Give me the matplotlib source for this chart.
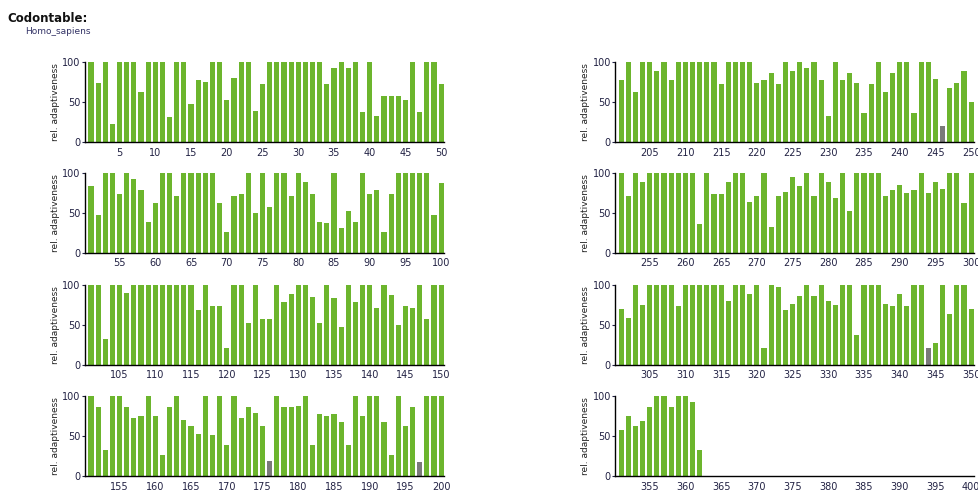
import numpy as np
import matplotlib
matplotlib.use('Agg')
import matplotlib.pyplot as plt

matplotlib.rc('font', family='DejaVu Sans')
matplotlib.rc('xtick', labelsize=7)
matplotlib.rc('ytick', labelsize=7)

organism = 'Homo_sapiens'

# relative adaptiveness per codon position, 50 positions per panel
v1_50 = [100, 74, 100, 22, 100, 100, 100, 63, 100, 100, 100, 31, 100, 100, 47, 78, 75, 100, 100, 52,
         80, 100, 100, 39, 72, 100, 100, 100, 100, 100, 100, 100, 100, 72, 92, 100, 93, 100, 38, 100,
         33, 57, 57, 57, 52, 100, 38, 100, 100, 72]
v51_100 = [84, 47, 100, 100, 74, 100, 92, 79, 39, 63, 100, 100, 71, 100, 100, 100, 100, 100, 63, 26,
           71, 74, 100, 50, 100, 57, 100, 100, 71, 100, 89, 74, 39, 37, 100, 31, 52, 39, 100, 74,
           79, 26, 74, 100, 100, 100, 100, 100, 47, 87]
v101_150 = [100, 100, 32, 100, 100, 90, 100, 100, 100, 100, 100, 100, 100, 100, 100, 68, 100, 74, 74, 21,
            100, 100, 52, 100, 57, 57, 100, 78, 89, 100, 100, 85, 52, 100, 84, 47, 100, 78, 100, 100,
            71, 100, 87, 50, 74, 71, 100, 57, 100, 100]
v151_200 = [100, 86, 32, 100, 100, 86, 72, 75, 100, 75, 26, 86, 100, 70, 63, 52, 100, 51, 100, 39,
            100, 72, 86, 79, 63, 19, 100, 86, 86, 88, 100, 39, 78, 75, 78, 68, 39, 100, 75, 100,
            100, 68, 26, 100, 63, 86, 18, 100, 100, 100]
v201_250 = [78, 100, 63, 100, 100, 89, 100, 78, 100, 100, 100, 100, 100, 100, 72, 100, 100, 100, 100, 74,
            78, 86, 72, 100, 89, 100, 92, 100, 78, 32, 100, 78, 86, 74, 36, 72, 100, 63, 86, 100,
            100, 36, 100, 100, 79, 20, 68, 74, 89, 50]
v251_300 = [100, 71, 100, 89, 100, 100, 100, 100, 100, 100, 100, 36, 100, 74, 74, 88, 100, 100, 64, 71,
            100, 33, 71, 76, 95, 84, 100, 71, 100, 88, 68, 100, 52, 100, 100, 100, 100, 71, 78, 85,
            75, 78, 100, 75, 88, 80, 100, 100, 63, 100]
v301_350 = [70, 59, 100, 75, 100, 100, 100, 100, 74, 100, 100, 100, 100, 100, 100, 80, 100, 100, 89, 100,
            21, 100, 97, 68, 76, 86, 100, 86, 100, 80, 75, 100, 100, 37, 100, 100, 100, 76, 74, 89,
            74, 100, 100, 21, 27, 100, 64, 100, 100, 70]
v351_400 = [57, 75, 63, 69, 86, 100, 100, 86, 100, 100, 92, 32]

# positions drawn in grey
grey_pos = [176, 197, 246, 344]

panels = [(1, v1_50), (51, v51_100), (101, v101_150), (151, v151_200),
          (201, v201_250), (251, v251_300), (301, v301_350), (351, v351_400)]

green = '#6cb52d'
grey = '#7a7a7a'

fig = plt.figure(figsize=(9.79, 4.93), dpi=100)

fig.text(0.008, 0.975, 'Codontable:', fontsize=8.5, fontweight='bold', va='top', color='#111111')
fig.text(0.026, 0.945, organism, fontsize=6.5, va='top', color='#333366')

bottoms = [0.712, 0.487, 0.260, 0.0345]
lefts = [0.0868, 0.6282]
w, h = 0.3667, 0.1623

for k, (start, vals) in enumerate(panels):
    col = k // 4
    row = k % 4
    ax = fig.add_axes([lefts[col], bottoms[row], w, h])
    pos = np.arange(start, start + len(vals))
    cols = [grey if p in grey_pos else green for p in pos]
    ax.bar(pos, vals, width=0.72, color=cols, edgecolor='none')
    ax.set_xlim(start - 0.85, start + 49 + 0.4)
    ax.set_ylim(0, 100)
    ax.set_yticks([0, 50, 100])
    ax.set_xticks(np.arange(start + 4, start + 50, 5))
    ax.tick_params(axis='x', length=0, pad=4, colors='#222244')
    ax.tick_params(axis='y', length=2, pad=1, colors='#222244')
    ax.set_ylabel('rel. adaptiveness', fontsize=6.5, labelpad=2, color='#222222')
    for s in ('top', 'right'):
        ax.spines[s].set_visible(False)
    for s in ('left', 'bottom'):
        ax.spines[s].set_linewidth(1.0)

plt.savefig('out.png', dpi=100)
